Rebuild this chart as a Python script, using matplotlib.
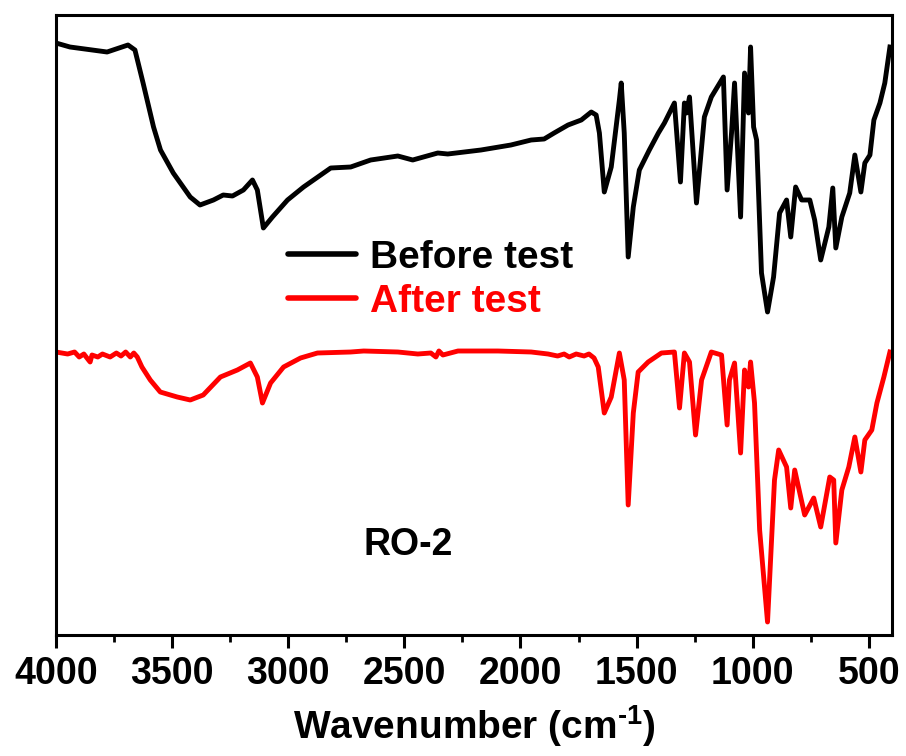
import matplotlib
matplotlib.use("Agg")
import matplotlib.pyplot as plt
from matplotlib.ticker import MultipleLocator

plt.rcParams['font.family'] = ['Liberation Sans', 'DejaVu Sans']
plt.rcParams['font.weight'] = 'bold'
plt.rcParams['mathtext.fontset'] = 'custom'
plt.rcParams['mathtext.bf'] = 'Liberation Sans:bold'
plt.rcParams['mathtext.rm'] = 'Liberation Sans:bold'

# FTIR spectra of RO-2 (transmittance, arbitrary units)
wn_before = [4000, 3940, 3780, 3690, 3660, 3625, 3580, 3550, 3495, 3422, 3380, 3322,
             3280, 3240, 3193, 3154, 3133, 3107, 3068, 3003, 2934, 2817, 2731, 2645,
             2528, 2464, 2356, 2313, 2170, 2041, 1954, 1898, 1855, 1795, 1738, 1695,
             1674, 1660, 1639, 1609, 1574, 1566, 1553, 1536, 1514, 1488, 1445, 1406,
             1380, 1337, 1311, 1294, 1285, 1272, 1242, 1208, 1178, 1126, 1110, 1091,
             1078, 1052, 1035, 1018, 1009, 996, 983, 962, 936, 910, 884, 854, 836,
             815, 789, 754, 733, 707, 672, 655, 642, 616, 582, 560, 534, 517, 495,
             478, 452, 431, 409]
t_before = [591, 587, 582, 589, 584, 551, 507, 484, 461, 437, 429, 434,
            439, 438, 444, 454, 444, 406, 417, 434, 447, 466, 467, 474,
            478, 474, 481, 480, 484, 489, 494, 495, 501, 509, 514, 522,
            519, 501, 442, 467, 534, 551, 501, 377, 427, 464, 484, 501,
            511, 531, 452, 531, 521, 537, 431, 517, 537, 557, 444, 501,
            551, 417, 561, 521, 587, 507, 494, 361, 322, 357, 421, 434, 397,
            447, 434, 434, 414, 374, 407, 446, 386, 417, 441, 479, 442, 471, 479,
            514, 531, 551, 587]

wn_after = [4000, 3950, 3920, 3900, 3880, 3860, 3853, 3845, 3820, 3800, 3767, 3740,
            3720, 3700, 3680, 3665, 3650, 3630, 3594, 3551, 3478, 3422, 3366, 3292,
            3219, 3163, 3133, 3111, 3076, 3020, 2947, 2874, 2731, 2675, 2528, 2442,
            2386, 2364, 2351, 2334, 2269, 2097, 1954, 1881, 1840, 1812, 1790, 1760,
            1726, 1705, 1683, 1665, 1639, 1609, 1574, 1553, 1536, 1514, 1493, 1450,
            1393, 1337, 1315, 1294, 1272, 1246, 1220, 1178, 1134, 1110, 1100, 1078,
            1052, 1035, 1018, 1009, 992, 970, 936, 906, 888, 854, 836, 819, 776,
            737, 707, 668, 651, 642, 616, 586, 560, 534, 517, 487, 465, 435, 409]
t_after = [282, 280, 282, 277, 280, 274, 272, 279, 277, 280, 277, 281,
           278, 282, 277, 281, 277, 267, 254, 242, 237, 234, 239, 257,
           264, 271, 257, 231, 251, 267, 276, 281, 282, 283, 282, 280,
           281, 277, 283, 279, 283, 283, 282, 280, 278, 280, 277, 280,
           278, 280, 276, 267, 221, 237, 281, 254, 129, 221, 262, 272,
           281, 282, 226, 281, 272, 199, 254, 282, 279, 209, 254, 271,
           181, 264, 247, 272, 231, 104, 12, 154, 184, 167, 126, 164, 119,
           136, 107, 157, 154, 91, 144, 167, 197, 162, 194, 204, 231, 257, 282]

series_labels = ['Before test', 'After test']
series_colors = ['black', '#ff0000']
sample_name = 'RO-2'
xticks_major = [4000, 3500, 3000, 2500, 2000, 1500, 1000, 500]

fig = plt.figure(figsize=(9.06, 7.56), dpi=100)
ax = fig.add_axes([56 / 906, 1 - 635 / 756, 836 / 906, 620 / 756])

ax.plot(wn_before, t_before, color=series_colors[0], lw=3.5,
        solid_joinstyle='round', label=series_labels[0])
ax.plot(wn_after, t_after, color=series_colors[1], lw=3.5,
        solid_joinstyle='round', label=series_labels[1])

ax.set_xlim(4000, 400)
ax.set_ylim(-1, 619)
ax.set_xticks(xticks_major)
ax.xaxis.set_minor_locator(MultipleLocator(250))
ax.set_yticks([])
ax.tick_params(axis='x', which='major', direction='out', length=9, width=2.2,
               labelsize=27, pad=6)
ax.tick_params(axis='x', which='minor', direction='out', length=5, width=2.0)
for lab in ax.get_xticklabels():
    lab.set_fontweight('bold')
for sp in ax.spines.values():
    sp.set_linewidth(2.2)

ax.set_xlabel('Wavenumber (cm$^{\\mathbf{\u2010}\\mathbf{1}}$)', fontsize=28,
              fontweight='bold', labelpad=8)

leg = ax.legend(loc='upper left', bbox_to_anchor=(288 / 906, 1 - 240 / 756),
                bbox_transform=fig.transFigure, frameon=False, borderpad=0,
                borderaxespad=0, handlelength=1.75, handletextpad=0.35,
                labelspacing=0.2, prop={'size': 28, 'weight': 'bold'},
                labelcolor='linecolor')
for ln in leg.get_lines():
    ln.set_linewidth(4)
    ln.set_solid_capstyle('round')

ax.text(2485, 89, sample_name, fontsize=27, fontweight='bold',
        ha='center', va='center')

fig.savefig('out.png', dpi=100)
